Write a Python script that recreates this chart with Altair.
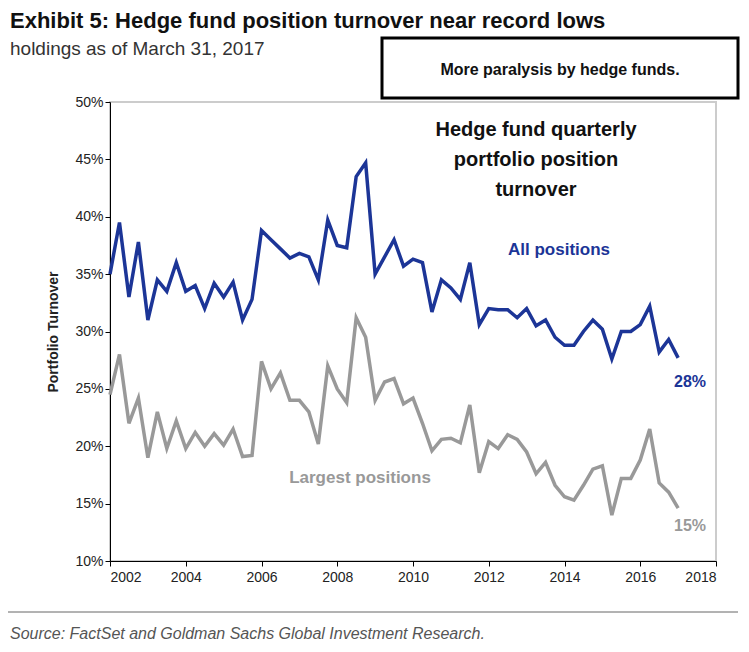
import altair as alt
import pandas as pd

years = [2002 + q * 0.25 for q in range(61)]
all_positions = [35, 39.5, 33, 37.8, 31, 34.5, 33.5, 36, 33.5, 34, 32, 34.2,
                 33, 34.3, 31, 32.8, 38.8, 38, 37.2, 36.4, 36.8, 36.5, 34.5, 39.7,
                 37.5, 37.3, 43.5, 44.7, 35, 36.5, 38, 35.7, 36.3, 36, 31.7, 34.5,
                 33.8, 32.8, 36, 30.6, 32, 31.9, 31.9, 31.2, 32, 30.5, 31, 29.5,
                 28.8, 28.8, 30, 31, 30.2, 27.6, 30, 30, 30.6, 32.2, 28.2, 29.3, 27.7]
largest_positions = [24.5, 28, 22, 24.2, 19, 23, 19.8, 22.2, 19.8, 21.2, 20, 21.1,
                     20.1, 21.5, 19.1, 19.2, 27.4, 25, 26.4, 24, 24, 23, 20.2, 27,
                     25, 23.8, 31.2, 29.5, 24, 25.6, 25.9, 23.7, 24.2, 22, 19.6, 20.6,
                     20.7, 20.3, 23.6, 17.7, 20.4, 19.8, 21, 20.6, 19.5, 17.6, 18.6, 16.6,
                     15.6, 15.3, 16.6, 18, 18.3, 14, 17.2, 17.2, 18.8, 21.5, 16.8, 16, 14.6]

df = pd.DataFrame({
    "year": years * 2,
    "value": [v / 100 for v in all_positions + largest_positions],
    "series": ["All positions"] * 61 + ["Largest positions"] * 61,
})

BLUE = "#1c3597"
GREY = "#999999"
PX0, PY0 = 110, 102  # plot origin on page (for decorative text offsets)

x = alt.X("year:Q", scale=alt.Scale(domain=[2002, 2018], nice=False),
          axis=alt.Axis(values=list(range(2002, 2019, 2)), format="d", grid=False,
                        domainColor="black", tickColor="black", labelColor="#222",
                        labelFontSize=14, labelPadding=4, title=None))
y = alt.Y("value:Q", scale=alt.Scale(domain=[0.10, 0.50], nice=False),
          axis=alt.Axis(values=[0.1, 0.15, 0.2, 0.25, 0.3, 0.35, 0.4, 0.45, 0.5],
                        format=".0%", grid=False, domainColor="black", tickColor="black",
                        labelColor="#222", labelFontSize=14, title="Portfolio Turnover",
                        titleFontSize=14, titleFontWeight="bold", titleColor="#222",
                        titlePadding=14))

lines = alt.Chart(df).mark_line(strokeWidth=3.5).encode(
    x=x, y=y,
    color=alt.Color("series:N", scale=alt.Scale(domain=["All positions", "Largest positions"],
                                               range=[BLUE, GREY]), legend=None),
)


def txt(text, px, py, size=17, color="#111", weight="bold", align="center",
        style="normal", font="Arial"):
    return alt.Chart(pd.DataFrame({"t": [text]})).mark_text(
        fontSize=size, color=color, fontWeight=weight, align=align, font=font,
        fontStyle=style, baseline="middle", clip=False,
    ).encode(x=alt.value(px - PX0), y=alt.value(py - PY0), text="t:N")


box = alt.Chart(pd.DataFrame({"a": [0]})).mark_rect(
    fill="white", stroke="black", strokeWidth=3, clip=False
).encode(x=alt.value(382 - PX0), x2=alt.value(738 - PX0),
         y=alt.value(38 - PY0), y2=alt.value(98 - PY0))

rule = alt.Chart(pd.DataFrame({"a": [0]})).mark_rule(color="#666", strokeWidth=1, clip=False).encode(
    x=alt.value(8 - PX0), x2=alt.value(738 - PX0), y=alt.value(612 - PY0))

layers = [
    lines, box, rule,
    txt("Exhibit 5: Hedge fund position turnover near record lows", 10, 21, size=22, align="left"),
    txt("holdings as of March 31, 2017", 10, 49, size=19, weight="normal", color="#333", align="left"),
    txt("More paralysis by hedge funds.", 560, 70, size=16),
    txt("Hedge fund quarterly", 536, 130, size=20),
    txt("portfolio position", 536, 160, size=20),
    txt("turnover", 536, 190, size=20),
    txt("All positions", 559, 250, size=17, color=BLUE),
    txt("28%", 690, 382, size=16, color=BLUE),
    txt("Largest positions", 360, 478, size=17, color=GREY),
    txt("15%", 690, 526, size=16, color=GREY),
    txt("Source: FactSet and Goldman Sachs Global Investment Research.", 10, 634, size=16,
        weight="normal", color="#555", align="left", style="italic"),
]

chart = alt.layer(*layers).properties(
    width=606, height=459,
    autosize=alt.AutoSizeParams(type="none"),
    padding={"left": PX0 - 8, "top": PY0 - 8, "right": 25, "bottom": 84},
    background="white",
).configure_view(stroke="#cccccc", strokeWidth=2).configure_axis(labelFont="Arial", titleFont="Arial")

chart.save("out.html", embed_options={"renderer": "svg", "actions": False})
